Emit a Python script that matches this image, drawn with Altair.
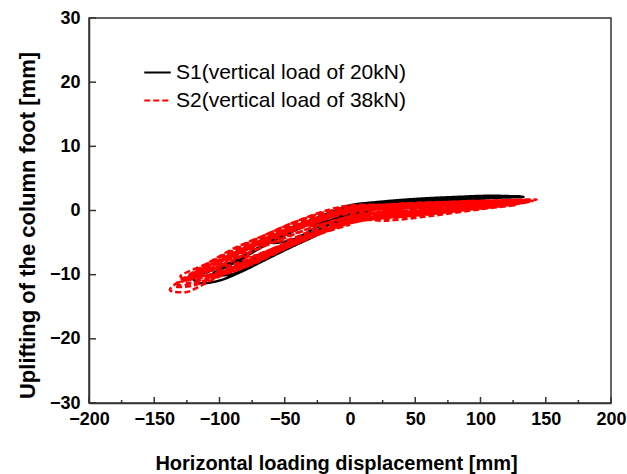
import altair as alt
import pandas as pd

# ---- data ----
s1_x = [0, 15, 30, 15, 0, -15, -30, -15, 0,
        25, 45, 60, 40, 20, 0, -20, -40, -60, -45, -25, -10, 0,
        30, 60, 85, 60, 30, 0, -20, -45, -65, -85, -70, -50, -30, -13, 0,
        30, 60, 85, 105, 80, 50, 25, 0, -20, -45, -70, -90, -105, -92, -75, -55, -35, -15, 0,
        30, 60, 90, 115, 133, 110, 80, 50, 20, 0, -15, -40, -65, -90, -108, -120, -115, -100, -85, -65, -45, -28, -13, 0,
        25, 55, 90, 118, 131, 100, 70, 40, 15, 0]
s1_y = [0.0, 0.3, 0.6, 0.8, 0.5, -0.7, -2.1, -1.5, -0.2,
        0.5, 0.8, 1.0, 1.2, 1.0, 0.6, -1.0, -2.9, -5.0, -4.6, -2.6, -1.2, -0.4,
        0.6, 1.1, 1.5, 1.5, 1.3, 0.7, -0.9, -3.1, -5.4, -8.0, -7.4, -5.6, -3.6, -1.9, -0.6,
        0.7, 1.2, 1.6, 1.9, 1.9, 1.6, 1.3, 0.8, -0.8, -3.0, -5.9, -8.3, -9.9, -10.0, -8.6, -6.6, -4.7, -2.7, -0.9,
        0.8, 1.3, 1.7, 2.0, 2.1, 2.3, 2.1, 1.8, 1.3, 0.8, -0.3, -2.4, -5.2, -7.9, -9.5, -10.6, -11.3, -10.9, -9.7, -7.7, -5.7, -4.1, -2.6, -1.2,
        0.5, 1.1, 1.8, 2.2, 2.2, 2.2, 1.9, 1.5, 1.1, 0.5]

s2_x = [0, 20, 40, 20, 0, -20, -40, -20, 0,
        25, 50, 70, 50, 25, 0, -25, -50, -70, -50, -25, 0,
        30, 60, 95, 60, 30, 0, -30, -60, -95, -70, -45, -20, 0,
        30, 60, 90, 115, 90, 60, 30, 0, -30, -60, -90, -115, -95, -70, -45, -20, 0,
        30, 60, 90, 130, 100, 60, 25, 0, -15, -40, -65, -90, -110, -130, -115, -95, -75, -50, -30, -15, 0,
        25, 50, 85, 115, 143, 120, 85, 50, 25, 0, -20, -45, -70, -95, -120, -138, -125, -116, -100, -80, -55, -30, -10, 0,
        30, 65, 100, 135, 105, 70, 35, 0, -25, -55, -85, -112, -128, -112, -88, -62, -38, -15, 0,
        40, 80, 125, 90, 50, 0, -30, -60, -90, -120, -100, -70, -40, -15, 0,
        20, 50, 80, 110, 138, 110, 80, 45, 15, 0, -20, -45, -70, -95, -118, -132, -118, -98, -78, -58, -38, -18, 0,
        25, 55, 85, 120, 140, 115, 85, 55, 25, 0, -20, -45, -70, -95, -120, -134, -120, -100, -80, -60, -40, -20, 0,
        30, 60, 95, 125, 100, 65, 30, 0, -25, -50, -75, -100, -125, -108, -85, -60, -35, -15, 0,
        30, 70, 110, 80, 40, 0, -25, -55, -85, -108, -90, -65, -40, -20, 0,
        35, 75, 120, 95, 55, 20, 0, -30, -60, -90, -122, -105, -82, -57, -32, -12, 0,
        30, 70, 105, 75, 35, 0, -30, -60, -90, -115, -95, -70, -45, -20, 0,
        25, 60, 100, 128, 100, 60, 25, 0, -25, -50, -80, -105, -125, -110, -90, -65, -40, -18, 0]
s2_y = [-0.6, -0.3, 0.1, 0.3, 0.0, -1.0, -2.4, -2.1, -0.9,
        -0.5, -0.1, 0.4, 0.6, 0.5, 0.2, -1.3, -3.3, -5.0, -4.7, -2.8, -1.2,
        -0.6, 0.0, 0.8, 0.9, 0.7, 0.4, -1.5, -3.8, -7.2, -6.9, -5.0, -3.0, -1.5,
        -0.9, -0.3, 0.4, 1.0, 1.2, 1.0, 0.8, 0.6, -1.2, -3.4, -6.2, -9.2, -9.1, -7.6, -5.5, -3.4, -1.8,
        -1.0, -0.5, 0.3, 1.3, 1.5, 1.2, 0.9, 0.8, 0.2, -1.6, -3.8, -6.0, -8.3, -10.3, -10.8, -9.8, -8.4, -6.0, -4.1, -3.0, -2.0,
        -1.1, -0.6, 0.3, 0.9, 1.7, 1.6, 1.4, 1.2, 0.9, 0.6, -0.3, -2.0, -4.3, -6.8, -9.6, -12.4, -12.7, -11.9, -10.3, -8.8, -6.4, -4.2, -2.6, -2.0,
        -0.8, -0.1, 0.7, 1.5, 1.4, 1.0, 0.5, -0.2, -1.4, -3.6, -6.5, -9.0, -10.8, -10.4, -8.8, -6.6, -4.4, -2.4, -1.4,
        -0.3, 0.5, 1.2, 1.0, 0.5, -0.4, -2.2, -4.6, -7.4, -10.4, -9.6, -7.6, -5.0, -2.8, -1.7,
        -1.4, -0.8, -0.1, 0.6, 1.4, 1.3, 1.0, 0.6, 0.3, -0.1, -1.3, -3.0, -5.2, -7.6, -10.0, -11.6, -11.3, -9.8, -8.2, -6.4, -4.6, -3.0, -1.9,
        -1.2, -0.7, 0.0, 0.8, 1.5, 1.6, 1.3, 1.0, 0.7, 0.4, -0.8, -2.6, -4.8, -7.2, -9.9, -11.8, -11.7, -10.0, -8.4, -6.8, -5.1, -3.4, -2.0,
        -1.0, -0.4, 0.4, 1.0, 1.1, 0.8, 0.5, 0.2, -1.0, -2.9, -5.2, -7.8, -10.6, -10.3, -8.4, -6.0, -4.0, -2.8, -1.6,
        -0.5, 0.2, 0.9, 0.8, 0.3, -0.2, -1.8, -3.9, -6.7, -9.0, -8.4, -6.4, -4.5, -3.0, -1.5,
        -0.7, 0.0, 1.1, 0.9, 0.5, 0.1, -0.3, -1.9, -4.3, -7.0, -10.1, -10.0, -8.0, -5.8, -3.8, -2.5, -1.8,
        -0.9, -0.2, 0.6, 0.6, 0.0, -0.9, -2.7, -5.0, -7.9, -10.2, -9.4, -7.3, -5.2, -3.2, -1.3,
        -1.6, -0.9, 0.2, 0.9, 0.7, 0.2, -0.4, -1.0, -2.4, -4.3, -6.8, -9.1, -11.2, -10.9, -9.3, -7.0, -4.9, -3.3, -2.2]

series_names = ["S1(vertical load of 20kN)", "S2(vertical load of 38kN)"]
series_colors = ["#000000", "#ff0000"]

x_ticks = [-200, -150, -100, -50, 0, 50, 100, 150, 200]
x_minor = [-175, -125, -75, -25, 25, 75, 125, 175]
y_ticks = [-30, -20, -10, 0, 10, 20, 30]

rows = []
for i, (x, y) in enumerate(zip(s1_x, s1_y)):
    rows.append({"x": x, "y": y, "series": series_names[0], "i": i})
for i, (x, y) in enumerate(zip(s2_x, s2_y)):
    rows.append({"x": x, "y": y, "series": series_names[1], "i": i})
df = pd.DataFrame(rows)

W, H = 522, 385
FONT = "Liberation Sans"
xs = alt.Scale(domain=[-200, 200], nice=False, zero=False)
ys = alt.Scale(domain=[-30, 30], nice=False, zero=False)

leg = dict(title=None, orient="none", legendX=54, legendY=40,
           symbolType="stroke", symbolSize=700, symbolStrokeWidth=2,
           labelFont=FONT, labelFontSize=21, labelColor="black", labelLimit=0,
           rowPadding=3, labelOffset=4, padding=0)

lines = alt.Chart(df).mark_line(strokeWidth=2.5, interpolate="catmull-rom", clip=True).encode(
    x=alt.X("x:Q", scale=xs, axis=alt.Axis(
        values=x_ticks, title="Horizontal loading displacement [mm]",
        ticks=False, labelPadding=7, titleX=247, titleY=60, titleBaseline="middle",
        titleFontSize=20, labelFlush=False)),
    y=alt.Y("y:Q", scale=ys, axis=alt.Axis(
        values=y_ticks, title="Uplifting of the column foot [mm]",
        ticks=False, labelPadding=9, titleX=-62, titleY=207, titleBaseline="middle",
        titleFontSize=22, labelFlush=False)),
    color=alt.Color("series:N", scale=alt.Scale(domain=series_names, range=series_colors),
                    legend=alt.Legend(**leg)),
    strokeDash=alt.StrokeDash("series:N", scale=alt.Scale(domain=series_names, range=[[1, 0], [6, 3]]),
                              legend=alt.Legend(**leg)),
    order="i:Q",
)

xt = alt.Chart(pd.DataFrame({"v": x_ticks})).mark_rule(color="#333", strokeWidth=1.5).encode(
    x=alt.X("v:Q", scale=xs), y=alt.value(H), y2=alt.value(H - 6))
xm = alt.Chart(pd.DataFrame({"v": x_minor})).mark_rule(color="#333", strokeWidth=1.5).encode(
    x=alt.X("v:Q", scale=xs), y=alt.value(H), y2=alt.value(H - 3))
yt = alt.Chart(pd.DataFrame({"v": y_ticks})).mark_rule(color="#333", strokeWidth=1.5).encode(
    y=alt.Y("v:Q", scale=ys), x=alt.value(0), x2=alt.value(7))

chart = alt.layer(lines, xt, xm, yt).properties(
    width=W, height=H,
    autosize=alt.AutoSizeParams(type="none"),
    padding={"left": 89, "top": 18, "right": 16, "bottom": 71},
    background="white",
).configure_view(stroke="#333", strokeWidth=1.5).configure_axis(
    grid=False, domainColor="#333", domainWidth=1.5,
    labelFont=FONT, labelFontWeight="bold", labelFontSize=18, labelColor="black",
    titleFont=FONT, titleFontWeight="bold", titleColor="black",
)

chart.save("out.html", embed_options={"renderer": "svg", "actions": False})
